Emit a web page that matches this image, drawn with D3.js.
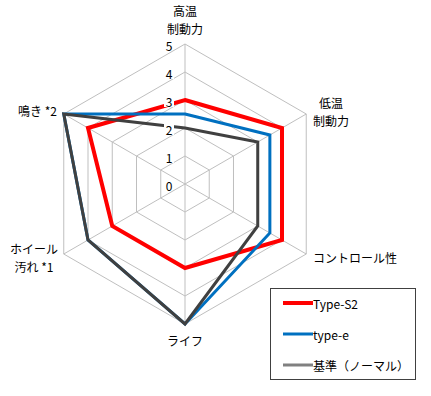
<!DOCTYPE html>
<html>
<head>
<meta charset="utf-8">
<script src="https://cdn.jsdelivr.net/npm/d3@7"></script>
<style>
  body { margin: 0; background: #fff; }
  text { font-family: "Noto Sans CJK JP", "Noto Sans", sans-serif; fill: #000; }
</style>
</head>
<body>
<svg id="radar" width="431" height="396"></svg>
<script>
// axes, clockwise from the top
const axes = ['高温制動力', '低温制動力', 'コントロール性', 'ライフ', 'ホイール汚れ*1', '鳴き*2'];
const ticks = [0, 1, 2, 3, 4, 5];
const seriesNames = ['Type-S2', 'type-e', '基準（ノーマル）'];
const typeS2 = [3, 4, 4, 3, 3, 4];
const typeE = [2.5, 3.5, 3.5, 5, 4, 5];
const base = [2, 3, 3, 5, 4, 5];

const svg = d3.select('#radar');
const cx = 185, cy = 184;
const r = d3.scaleLinear().domain([0, 5]).range([0, 140]);
const angle = i => (-90 + 60 * i) * Math.PI / 180;
const pt = (v, i) => [cx + r(v) * Math.cos(angle(i)), cy + r(v) * Math.sin(angle(i))];

// grid hexagons
const grid = svg.append('g');
grid.selectAll('path.ring')
    .data(ticks.filter(t => t > 0))
    .join('path')
    .attr('class', 'ring')
    .attr('fill', 'none')
    .attr('stroke', '#bfbfbf')
    .attr('stroke-width', 1)
    .attr('d', t => d3.line()(axes.map((a, i) => pt(t, i))) + 'Z');

grid.selectAll('line')
    .data(axes)
    .join('line')
    .attr('stroke', '#bfbfbf')
    .attr('x1', cx).attr('y1', cy)
    .attr('x2', (d, i) => pt(5, i)[0])
    .attr('y2', (d, i) => pt(5, i)[1]);

// series
const series = [
    { name: seriesNames[0], values: typeS2, color: '#ff0000', width: 4, legend: '#ff0000' },
    { name: seriesNames[1], values: typeE, color: '#0070c0', width: 3, legend: '#0070c0' },
    { name: seriesNames[2], values: base, color: '#404040', width: 3, legend: '#808080' }
];

svg.append('g')
    .selectAll('path')
    .data(series)
    .join('path')
    .attr('fill', 'none')
    .attr('stroke', d => d.color)
    .attr('stroke-width', d => d.width)
    .attr('stroke-linejoin', 'miter')
    .attr('d', d => d3.line()(d.values.map((v, i) => pt(v, i))) + 'Z');

// tick labels with white background
const tickG = svg.append('g')
    .selectAll('g')
    .data(ticks)
    .join('g')
    .attr('transform', t => `translate(${cx - 16},${cy - r(t) + 1})`);
tickG.filter(t => t > 0 && t < 5).append('rect')
    .attr('x', -5).attr('y', -6).attr('width', 10).attr('height', 12)
    .attr('fill', '#fff');
tickG.append('text')
    .attr('text-anchor', 'middle')
    .attr('dominant-baseline', 'central')
    .attr('font-size', 12)
    .text(t => t);

// axis labels
const labelLayout = [
    { lines: ['高温', '制動力'], x: 185, y: [10, 28], anchor: 'middle' },
    { lines: ['低温', '制動力'], x: 331, y: [102, 120], anchor: 'middle' },
    { lines: ['コントロール性'], x: 313, y: [257], anchor: 'start' },
    { lines: ['ライフ'], x: 185, y: [340], anchor: 'middle' },
    { lines: ['ホイール', '汚れ *1'], x: 34, y: [248, 266], anchor: 'middle' },
    { lines: ['鳴き *2'], x: 57, y: [110], anchor: 'end' }
];
labelLayout.forEach(l => {
    l.lines.forEach((s, k) => {
        svg.append('text')
            .attr('x', l.x)
            .attr('y', l.y[k])
            .attr('text-anchor', l.anchor)
            .attr('dominant-baseline', 'central')
            .attr('font-size', 12)
            .text(s);
    });
});

// legend
const legend = svg.append('g').attr('transform', 'translate(270,288)');
legend.append('rect')
    .attr('x', 0.5).attr('y', 0.5)
    .attr('width', 145).attr('height', 91)
    .attr('fill', '#fff')
    .attr('stroke', '#404040');
const item = legend.selectAll('g.item')
    .data(series)
    .join('g')
    .attr('class', 'item')
    .attr('transform', (d, i) => `translate(13,${15 + i * 31})`);
item.append('line')
    .attr('x1', 0).attr('x2', 30)
    .attr('stroke', d => d.legend)
    .attr('stroke-width', d => d.width);
item.append('text')
    .attr('x', 30)
    .attr('dominant-baseline', 'central')
    .attr('font-size', 12)
    .text(d => d.name);
</script>
</body>
</html>
